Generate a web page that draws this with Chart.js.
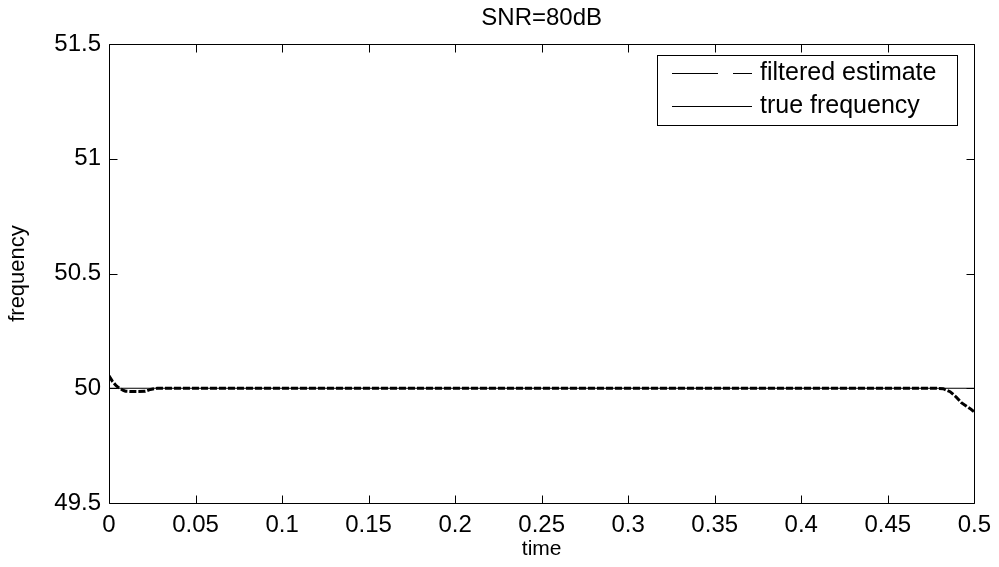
<!DOCTYPE html>
<html>
<head>
<meta charset="utf-8">
<script src="https://cdn.jsdelivr.net/npm/chart.js@4.4.1/dist/chart.umd.min.js"></script>
<style>
html,body{margin:0;padding:0;background:#fff;}
#wrap{width:999px;height:567px;position:relative;}
</style>
</head>
<body>
<div id="wrap"><canvas id="c" width="999" height="567"></canvas></div>
<script>
// ---- data ----
const chartTitle = 'SNR=80dB';
const xLabel = 'time';
const yLabel = 'frequency';
const seriesNames = ['filtered estimate', 'true frequency'];

const estTime  = [0, 0.002, 0.004, 0.0055, 0.008, 0.0095, 0.012, 0.016, 0.021, 0.024, 0.028, 0.05, 0.1, 0.15, 0.2, 0.25, 0.3, 0.35, 0.4, 0.45, 0.478, 0.482, 0.486, 0.4895, 0.4925, 0.4955, 0.498, 0.5];
const estValue = [50.054, 50.03, 50.012, 50.003, 49.992, 49.987, 49.986, 49.986, 49.987, 49.995, 50.0, 50.0, 50.0, 50.0, 50.0, 50.0, 50.0, 50.0, 50.0, 50.0, 50.0, 49.998, 49.985, 49.962, 49.937, 49.922, 49.909, 49.896];

const trueTime  = [0, 0.5];
const trueValue = [50, 50];

const xTickStep = 0.05;
const yTickStep = 0.5;
const xRange = [0, 0.5];
const yRange = [49.5, 51.5];

// ---- chart ----
const FONT = 'Liberation Sans, Arial, Helvetica, sans-serif';

const boxPlugin = {
  id: 'matlabBox',
  afterDatasetsDraw(chart) {
    const {ctx, chartArea: a, scales: {x, y}} = chart;
    ctx.save();
    ctx.strokeStyle = '#000';
    ctx.lineWidth = 1;
    ctx.setLineDash([]);
    const L = Math.round(a.left) + 0.5, R = Math.round(a.right) + 0.5;
    const T = Math.round(a.top) + 0.5, B = Math.round(a.bottom) + 0.5;
    ctx.beginPath();
    ctx.rect(L, T, R - L, B - T);
    ctx.stroke();
    const tl = 8;
    ctx.beginPath();
    x.ticks.forEach(t => {
      const px = Math.round(x.getPixelForValue(t.value)) + 0.5;
      ctx.moveTo(px, B); ctx.lineTo(px, B - tl);
      ctx.moveTo(px, T); ctx.lineTo(px, T + tl);
    });
    y.ticks.forEach(t => {
      const py = Math.round(y.getPixelForValue(t.value)) + 0.5;
      ctx.moveTo(L, py); ctx.lineTo(L + tl, py);
      ctx.moveTo(R, py); ctx.lineTo(R - tl, py);
    });
    ctx.stroke();

    // title centered over plot area
    ctx.fillStyle = '#000';
    ctx.font = '24px ' + FONT;
    ctx.textAlign = 'center';
    ctx.textBaseline = 'middle';
    ctx.fillText(chartTitle, (a.left + a.right) / 2, 18);

    // legend
    const lx = 657.5, ly = 55.5, lw = 300, lh = 70;
    ctx.fillStyle = '#fff';
    ctx.fillRect(lx, ly, lw, lh);
    ctx.strokeRect(lx, ly, lw, lh);
    const rows = [73.5, 106.5];
    ctx.lineWidth = 1;
    ctx.beginPath();
    ctx.setLineDash([46, 15]);
    ctx.moveTo(672, rows[0]); ctx.lineTo(752, rows[0]);
    ctx.stroke();
    ctx.beginPath();
    ctx.setLineDash([]);
    ctx.moveTo(672, rows[1]); ctx.lineTo(752, rows[1]);
    ctx.stroke();
    ctx.fillStyle = '#000';
    ctx.font = '25px ' + FONT;
    ctx.textBaseline = 'middle';
    ctx.textAlign = 'left';
    ctx.fillText(seriesNames[0], 760, rows[0]);
    ctx.fillText(seriesNames[1], 760, rows[1]);
    ctx.restore();
  }
};

new Chart(document.getElementById('c'), {
  type: 'line',
  data: {
    datasets: [
      {
        label: seriesNames[1],
        data: trueTime.map((t, i) => ({x: t, y: trueValue[i]})),
        borderColor: '#000',
        borderWidth: 1,
        pointRadius: 0,
        tension: 0,
        order: 1
      },
      {
        label: seriesNames[0],
        data: estTime.map((t, i) => ({x: t, y: estValue[i]})),
        borderColor: '#000',
        borderWidth: 3,
        borderDash: [7, 2],
        pointRadius: 0,
        tension: 0,
        order: 2
      }
    ]
  },
  options: {
    responsive: false,
    animation: false,
    devicePixelRatio: 1,
    layout: {padding: {top: 44, right: 23, bottom: 0, left: 0}},
    plugins: {
      legend: {display: false},
      tooltip: {enabled: false},
      title: {display: false}
    },
    scales: {
      x: {
        type: 'linear',
        min: xRange[0], max: xRange[1],
        grid: {display: false, drawTicks: false},
        border: {display: false},
        ticks: {
          stepSize: xTickStep,
          color: '#000',
          font: {family: FONT, size: 24},
          padding: 8,
          maxRotation: 0,
          autoSkip: false,
          callback: v => String(Number(v.toFixed(2)))
        },
        title: {
          display: true, text: xLabel, color: '#000',
          font: {family: FONT, size: 21},
          padding: {top: 0, bottom: 5}
        },
        afterFit: s => { s.height = 64; }
      },
      y: {
        type: 'linear',
        min: yRange[0], max: yRange[1],
        grid: {display: false, drawTicks: false},
        border: {display: false},
        ticks: {
          stepSize: yTickStep,
          color: '#000',
          font: {family: FONT, size: 24},
          padding: 8,
          autoSkip: false,
          callback: v => String(Number(v.toFixed(1)))
        },
        title: {
          display: true, text: yLabel, color: '#000',
          font: {family: FONT, size: 22},
          padding: {top: 5, bottom: 0}
        },
        afterFit: s => { s.width = 109; }
      }
    }
  },
  plugins: [boxPlugin]
});
</script>
</body>
</html>
